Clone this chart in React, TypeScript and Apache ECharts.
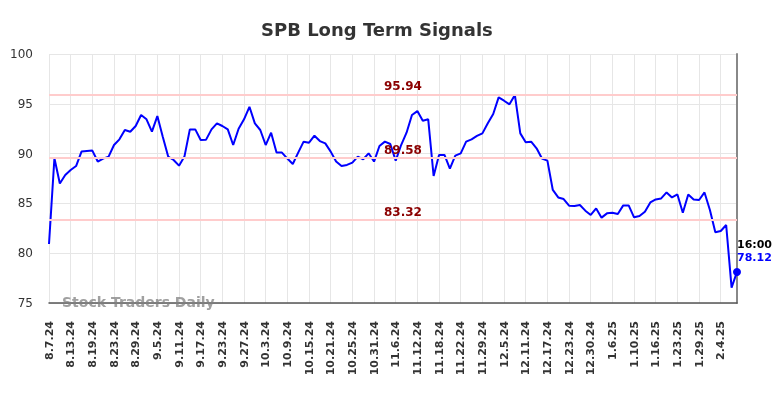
import React, { useEffect, useRef } from "react";
import * as echarts from "echarts";

const dates: string[] = [
  "8.7.24","8.8.24","8.9.24","8.12.24","8.13.24","8.14.24","8.15.24","8.16.24","8.19.24","8.20.24","8.21.24","8.22.24","8.23.24","8.26.24","8.27.24","8.28.24","8.29.24","8.30.24",
  "9.3.24","9.4.24","9.5.24","9.6.24","9.9.24","9.10.24","9.11.24","9.12.24","9.13.24","9.16.24","9.17.24","9.18.24","9.19.24","9.20.24","9.23.24","9.24.24","9.25.24","9.26.24","9.27.24","9.30.24",
  "10.1.24","10.2.24","10.3.24","10.4.24","10.7.24","10.8.24","10.9.24","10.10.24","10.11.24","10.14.24","10.15.24","10.16.24","10.17.24","10.18.24","10.21.24","10.22.24","10.23.24","10.24.24","10.25.24","10.28.24","10.29.24","10.30.24","10.31.24",
  "11.1.24","11.4.24","11.5.24","11.6.24","11.7.24","11.8.24","11.11.24","11.12.24","11.13.24","11.14.24","11.15.24","11.18.24","11.19.24","11.20.24","11.21.24","11.22.24","11.25.24","11.26.24","11.27.24","11.29.24",
  "12.2.24","12.3.24","12.4.24","12.5.24","12.6.24","12.9.24","12.10.24","12.11.24","12.12.24","12.13.24","12.16.24","12.17.24","12.18.24","12.19.24","12.20.24","12.23.24","12.24.24","12.26.24","12.27.24","12.30.24","12.31.24",
  "1.2.25","1.3.25","1.6.25","1.7.25","1.8.25","1.9.25","1.10.25","1.13.25","1.14.25","1.15.25","1.16.25","1.17.25","1.21.25","1.22.25","1.23.25","1.24.25","1.27.25","1.28.25","1.29.25","1.30.25","1.31.25",
  "2.3.25","2.4.25","2.5.25","2.6.25","2.7.25"
];

const prices: number[] = [
  80.92, 89.53, 87.0, 87.85, 88.35, 88.75, 90.2, 90.26, 90.3, 89.2,
  89.5, 89.7, 90.86, 91.43, 92.37, 92.2, 92.77, 93.87, 93.44, 92.2,
  93.77, 91.7, 89.7, 89.36, 88.79, 89.7, 92.43, 92.43, 91.37, 91.4,
  92.43, 93.04, 92.77, 92.43, 90.86, 92.5, 93.44, 94.7, 93.04, 92.37,
  90.86, 92.1, 90.1, 90.1, 89.5, 88.96, 90.1, 91.2, 91.1, 91.8,
  91.26, 91.03, 90.2, 89.2, 88.75, 88.86, 89.1, 89.7, 89.43, 90.03,
  89.2, 90.76, 91.2, 90.96, 89.29, 90.86, 92.1, 93.87, 94.27, 93.3,
  93.44, 87.75, 89.86, 89.86, 88.5, 89.8, 90.03, 91.2, 91.43, 91.77,
  92.03, 93.04, 93.98, 95.65, 95.31, 94.95, 95.88, 92.03, 91.13, 91.2,
  90.53, 89.5, 89.29, 86.35, 85.6, 85.44, 84.77, 84.74, 84.84, 84.27,
  83.84, 84.5, 83.57, 84.0, 84.07, 83.94, 84.8, 84.8, 83.6, 83.73,
  84.17, 85.1, 85.4, 85.5, 86.1, 85.6, 85.9, 84.07, 85.9, 85.4,
  85.34, 86.1, 84.34, 82.1, 82.23, 82.83, 76.54, 78.12
];

const signalLevels: number[] = [95.94, 89.58, 83.32];
const yTicks = { min: 75, max: 100, interval: 5 };
const lastTimeLabel = "16:00";

export default function App() {
  const ref = useRef<HTMLDivElement>(null);
  useEffect(() => {
    if (!ref.current) return;
    const chart = echarts.init(ref.current, undefined, { renderer: "svg" });
    const font = "DejaVu Sans";
    const lastIdx = prices.length - 1;
    chart.setOption({
      animation: false,
      textStyle: { fontFamily: font },
      title: {
        text: "SPB Long Term Signals",
        left: 256,
        top: 15,
        textStyle: { fontSize: 18, fontWeight: "bold", color: "#333", fontFamily: font },
      },
      grid: { left: 49, right: 47, top: 54, bottom: 95, containLabel: false },
      xAxis: {
        type: "category",
        data: dates,
        boundaryGap: false,
        axisLine: { show: true, lineStyle: { color: "#555", width: 1.5 } },
        axisTick: { show: false },
        axisLabel: {
          interval: 3,
          rotate: 90,
          margin: 18,
          fontSize: 11,
          fontWeight: "bold",
          color: "#333",
          fontFamily: font,
        },
        splitLine: { show: true, interval: 3, lineStyle: { color: "#e6e6e6", width: 1 } },
      },
      yAxis: [
        {
          type: "value",
          min: yTicks.min,
          max: yTicks.max,
          interval: yTicks.interval,
          axisLine: { show: false },
          axisTick: { show: false },
          axisLabel: { margin: 16, fontSize: 12, color: "#333", fontFamily: font },
          splitLine: { show: true, lineStyle: { color: "#e6e6e6", width: 1 } },
        },
        {
          type: "value",
          position: "right",
          min: yTicks.min,
          max: yTicks.max,
          interval: yTicks.interval,
          axisLine: { show: true, lineStyle: { color: "#888", width: 2 } },
          axisTick: { show: false },
          axisLabel: { show: false },
          splitLine: { show: false },
        },
      ],
      series: [
        {
          type: "line",
          data: prices,
          showSymbol: false,
          symbol: "none",
          lineStyle: { color: "#0000ff", width: 2 },
          itemStyle: { color: "#0000ff" },
          markLine: {
            silent: true,
            symbol: "none",
            lineStyle: { color: "#ffcccc", width: 2, type: "solid" },
            label: {
              show: true,
              position: "middle",
              distance: 2,
              padding: [0, 0, 0, 20],
              formatter: (p: any) => Number(p.value).toFixed(2),
              color: "#8b0000",
              fontWeight: "bold",
              fontSize: 12,
              fontFamily: font,
            },
            data: signalLevels.map((v) => ({ yAxis: v })),
          },
        },
        {
          type: "scatter",
          data: [[dates[lastIdx], prices[lastIdx]]],
          symbolSize: 8,
          itemStyle: { color: "#0000ff", opacity: 1 },
          label: {
            show: true,
            position: [4, -30],
            formatter: () => `{t|${lastTimeLabel}}\n{v|${prices[lastIdx].toFixed(2)}}`,
            rich: {
              t: { fontSize: 11, fontWeight: "bold", color: "#000", lineHeight: 13, fontFamily: font },
              v: { fontSize: 11, fontWeight: "bold", color: "#0000ff", lineHeight: 13, fontFamily: font },
            },
          },
          z: 5,
        },
      ],
      graphic: [
        {
          type: "text",
          left: 62,
          top: 295,
          style: {
            text: "Stock Traders Daily",
            fontSize: 14,
            fontWeight: "bold",
            fill: "rgba(128,128,128,0.75)",
            fontFamily: font,
          },
          z: 10,
        },
      ],
    });
    return () => chart.dispose();
  }, []);
  return (
    <div
      ref={ref}
      style={{ position: "fixed", left: 0, top: 0, width: 784, height: 398 }}
    />
  );
}
